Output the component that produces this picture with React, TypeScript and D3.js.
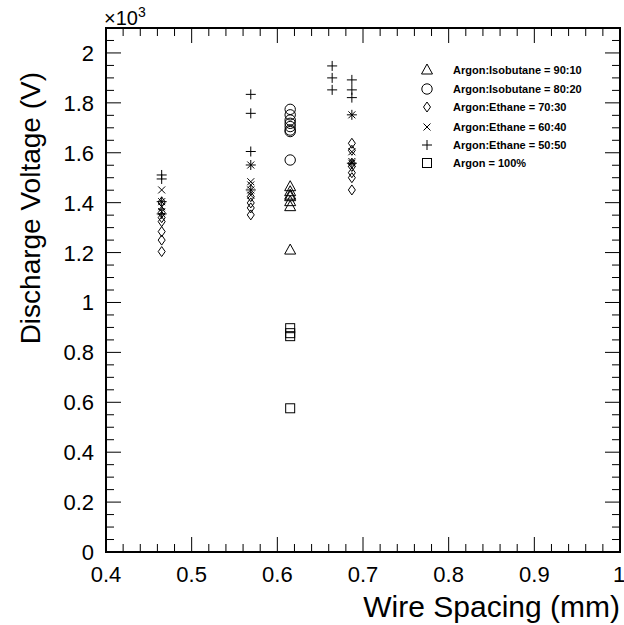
import React from "react";
import * as d3 from "d3";

// ---- data (Discharge voltage in V vs wire spacing in mm) ----
const triangles9010 = [
  { x: 0.615, y: 1464 }, { x: 0.615, y: 1444 }, { x: 0.615, y: 1430 },
  { x: 0.615, y: 1424 }, { x: 0.615, y: 1404 }, { x: 0.615, y: 1384 },
  { x: 0.615, y: 1210 },
];
const circles8020 = [
  { x: 0.615, y: 1774 }, { x: 0.615, y: 1752 }, { x: 0.615, y: 1731 },
  { x: 0.615, y: 1718 }, { x: 0.615, y: 1705 }, { x: 0.615, y: 1691 },
  { x: 0.615, y: 1685 }, { x: 0.615, y: 1571 },
];
const diamonds7030 = [
  { x: 0.465, y: 1403 }, { x: 0.465, y: 1360 }, { x: 0.465, y: 1340 },
  { x: 0.465, y: 1324 }, { x: 0.465, y: 1284 }, { x: 0.465, y: 1250 },
  { x: 0.465, y: 1204 },
  { x: 0.569, y: 1424 }, { x: 0.569, y: 1399 }, { x: 0.569, y: 1379 },
  { x: 0.569, y: 1351 },
  { x: 0.687, y: 1638 }, { x: 0.687, y: 1610 }, { x: 0.687, y: 1558 },
  { x: 0.687, y: 1545 }, { x: 0.687, y: 1520 }, { x: 0.687, y: 1500 },
  { x: 0.687, y: 1451 },
];
const crosses6040 = [
  { x: 0.465, y: 1451 }, { x: 0.465, y: 1404 }, { x: 0.465, y: 1384 },
  { x: 0.465, y: 1364 },
  { x: 0.569, y: 1551 }, { x: 0.569, y: 1484 }, { x: 0.569, y: 1471 },
  { x: 0.569, y: 1451 }, { x: 0.569, y: 1430 },
  { x: 0.687, y: 1752 }, { x: 0.687, y: 1604 }, { x: 0.687, y: 1565 },
  { x: 0.687, y: 1558 },
];
const plus5050 = [
  { x: 0.465, y: 1511 }, { x: 0.465, y: 1495 }, { x: 0.465, y: 1404 },
  { x: 0.465, y: 1355 },
  { x: 0.569, y: 1834 }, { x: 0.569, y: 1758 }, { x: 0.569, y: 1605 },
  { x: 0.569, y: 1551 }, { x: 0.569, y: 1451 },
  { x: 0.664, y: 1948 }, { x: 0.664, y: 1900 }, { x: 0.664, y: 1852 },
  { x: 0.687, y: 1892 }, { x: 0.687, y: 1852 }, { x: 0.687, y: 1821 },
  { x: 0.687, y: 1752 }, { x: 0.687, y: 1558 },
];
const squares100 = [
  { x: 0.615, y: 897 }, { x: 0.615, y: 877 }, { x: 0.615, y: 865 },
  { x: 0.615, y: 576 },
];

const seriesNames = [
  "Argon:Isobutane = 90:10",
  "Argon:Isobutane = 80:20",
  "Argon:Ethane = 70:30",
  "Argon:Ethane = 60:40",
  "Argon:Ethane = 50:50",
  "Argon = 100%",
];
const seriesShapes = ["triangle", "circle", "diamond", "cross", "plus", "square"];
const seriesData = [triangles9010, circles8020, diamonds7030, crosses6040, plus5050, squares100];

const xTickValues = [0.4, 0.5, 0.6, 0.7, 0.8, 0.9, 1.0];
const xTickLabels = ["0.4", "0.5", "0.6", "0.7", "0.8", "0.9", "1"];
const yTickValues = [0, 200, 400, 600, 800, 1000, 1200, 1400, 1600, 1800, 2000];
const yTickLabels = ["0", "0.2", "0.4", "0.6", "0.8", "1", "1.2", "1.4", "1.6", "1.8", "2"];

const FONT = "'Liberation Sans', Arial, Helvetica, sans-serif";

function Marker({ shape, cx, cy }: { shape: string; cx: number; cy: number }) {
  const common = { fill: "none", stroke: "#000", strokeWidth: 1 };
  switch (shape) {
    case "triangle":
      return <path d={`M${cx},${cy - 6}L${cx + 5.5},${cy + 4}L${cx - 5.5},${cy + 4}Z`} {...common} />;
    case "circle":
      return <circle cx={cx} cy={cy} r={5.2} {...common} />;
    case "diamond":
      return <path d={`M${cx},${cy - 5}L${cx + 3.5},${cy}L${cx},${cy + 5}L${cx - 3.5},${cy}Z`} {...common} />;
    case "cross":
      return <path d={`M${cx - 3.5},${cy - 3.5}L${cx + 3.5},${cy + 3.5}M${cx - 3.5},${cy + 3.5}L${cx + 3.5},${cy - 3.5}`} {...common} />;
    case "plus":
      return <path d={`M${cx - 5},${cy}L${cx + 5},${cy}M${cx},${cy - 5}L${cx},${cy + 5}`} {...common} />;
    case "square":
      return <rect x={cx - 4.5} y={cy - 4.5} width={9} height={9} {...common} />;
  }
  return null;
}

export default function App() {
  const W = 624, H = 625;
  const left = 106, right = 620, top = 28, bottom = 552;
  const x = d3.scaleLinear().domain([0.4, 1.0]).range([left, right]);
  const y = d3.scaleLinear().domain([0, 2100]).range([bottom, top]);

  const xMinor = d3.range(0, 31).map((i) => 0.4 + i * 0.02);
  const yMinor = d3.range(0, 43).map((i) => i * 50);

  const isMajorX = (v: number) => Math.abs(v * 10 - Math.round(v * 10)) < 1e-6;
  const isMajorY = (v: number) => v % 200 === 0;

  const legendRows = [70, 89, 107, 127, 145, 163];

  return (
    <svg width={W} height={H} style={{ position: "absolute", left: 0, top: 0, background: "#fff" }} fontFamily={FONT}>
      <rect x={0} y={0} width={W} height={H} fill="#fff" />
      {/* ticks */}
      {xMinor.map((v, i) => {
        const px = x(v);
        const len = isMajorX(v) ? 15 : 8;
        return (
          <g key={"xt" + i}>
            <line x1={px} x2={px} y1={bottom} y2={bottom - len} stroke="#000" strokeWidth={1} />
            <line x1={px} x2={px} y1={top} y2={top + len} stroke="#000" strokeWidth={1} />
          </g>
        );
      })}
      {yMinor.map((v, i) => {
        const py = y(v);
        const len = isMajorY(v) ? 15 : 8;
        return (
          <g key={"yt" + i}>
            <line x1={left} x2={left + len} y1={py} y2={py} stroke="#000" strokeWidth={1} />
            <line x1={right} x2={right - len} y1={py} y2={py} stroke="#000" strokeWidth={1} />
          </g>
        );
      })}
      {/* frame */}
      <rect x={left} y={top} width={right - left} height={bottom - top} fill="none" stroke="#000" strokeWidth={2} />

      {/* tick labels */}
      {xTickValues.map((v, i) => (
        <text key={"xl" + i} x={i === xTickValues.length - 1 ? x(v) - 1 : x(v)} y={582} fontSize={22} textAnchor="middle">
          {xTickLabels[i]}
        </text>
      ))}
      {yTickValues.map((v, i) => (
        <text key={"yl" + i} x={94} y={y(v) + 8} fontSize={22} textAnchor="end">
          {yTickLabels[i]}
        </text>
      ))}
      <text x={104} y={25} fontSize={20}>
        ×10<tspan dy={-8} fontSize={14}>3</tspan>
      </text>

      {/* axis titles */}
      <text x={620} y={617} fontSize={30} textAnchor="end">Wire Spacing (mm)</text>
      <text transform={`translate(40,72) rotate(-90)`} fontSize={28} textAnchor="end">
        Discharge Voltage (V)
      </text>

      {/* data */}
      {seriesData.map((data, si) => (
        <g key={"s" + si}>
          {data.map((d, i) => (
            <Marker key={i} shape={seriesShapes[si]} cx={x(d.x)} cy={y(d.y)} />
          ))}
        </g>
      ))}

      {/* legend */}
      {seriesNames.map((name, i) => (
        <g key={"lg" + i}>
          <Marker shape={seriesShapes[i]} cx={427} cy={legendRows[i]} />
          <text x={453} y={legendRows[i] + 4} fontSize={11} fontWeight="bold">
            {name}
          </text>
        </g>
      ))}
    </svg>
  );
}
